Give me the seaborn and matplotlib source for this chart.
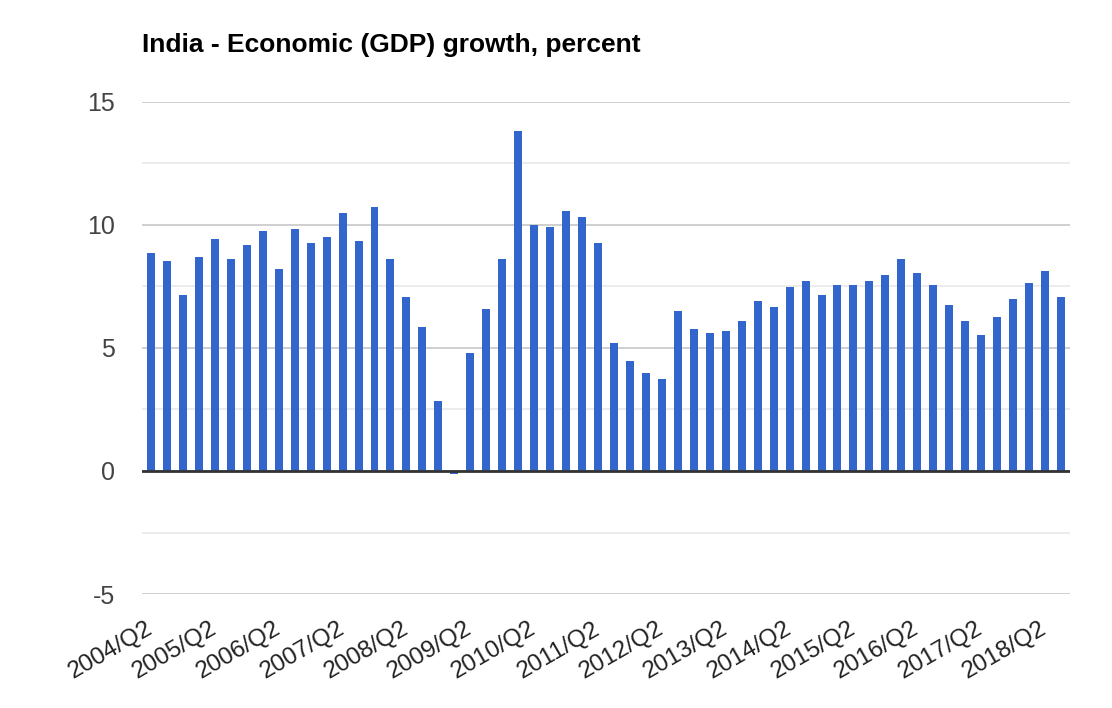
import matplotlib
matplotlib.use("Agg")
import matplotlib.pyplot as plt
import seaborn as sns
import pandas as pd

# 季度标签 2004/Q2 - 2018/Q3
quarters = [f"{y}/Q{q}" for y in range(2004, 2019) for q in range(1, 5)][1:-1]
growth = [8.88, 8.55, 7.17, 8.71, 9.44, 8.63, 9.2, 9.77, 8.22, 9.85,
          9.28, 9.53, 10.5, 9.36, 10.74, 8.63, 7.09, 5.87, 2.86, -0.14,
          4.81, 6.6, 8.63, 13.83, 10.01, 9.93, 10.58, 10.34, 9.28, 5.22,
          4.49, 4.0, 3.75, 6.52, 5.79, 5.62, 5.7, 6.11, 6.92, 6.68,
          7.49, 7.74, 7.17, 7.57, 7.57, 7.74, 7.98, 8.63, 8.06, 7.57,
          6.76, 6.11, 5.54, 6.27, 7.0, 7.66, 8.14, 7.09]
y_major = [-5, 0, 5, 10, 15]
y_minor = [-2.5, 2.5, 7.5, 12.5]

df = pd.DataFrame({"quarter": quarters, "growth": growth})

sns.set_style("white")
plt.rcParams["font.family"] = ["Liberation Sans", "DejaVu Sans"]
plt.rcParams["axes.unicode_minus"] = False

fig = plt.figure(figsize=(11.12, 7.08), dpi=100)
ax = fig.add_axes([0.1277, 0.161, 0.8345, 0.695])

sns.barplot(data=df, x="quarter", y="growth", color="#3366cc", saturation=1,
            width=0.5, linewidth=0, ax=ax, zorder=3)

ax.set_xlim(-0.5625, len(quarters) - 0.4375)
ax.set_ylim(-5, 15)
ax.set_yticks(y_major)
ax.set_yticks(y_minor, minor=True)
ax.grid(True, which="major", axis="y", color="#cccccc", lw=1.3, zorder=0)
ax.grid(True, which="minor", axis="y", color="#ebebeb", lw=1.3, zorder=0)
ax.axhline(0, color="#333333", lw=2, zorder=4)

tick_pos = list(range(0, len(quarters), 4))
ax.set_xticks(tick_pos)
ax.set_xticklabels([quarters[i] for i in tick_pos], rotation=30, ha="right",
                   va="center", rotation_mode="anchor", fontsize=17.5, color="#222222")
ax.tick_params(axis="x", length=0, pad=24)
ax.tick_params(axis="y", which="both", length=0, pad=19.5, labelsize=18, labelcolor="#444444")

for s in ax.spines.values():
    s.set_visible(False)
ax.set_xlabel("")
ax.set_ylabel("")

fig.text(0.1277, (708 - 52) / 708, "India - Economic (GDP) growth, percent",
         fontsize=19, fontweight="bold", color="#000000", va="baseline", ha="left")

plt.savefig("out.png", dpi=100)
plt.close()
